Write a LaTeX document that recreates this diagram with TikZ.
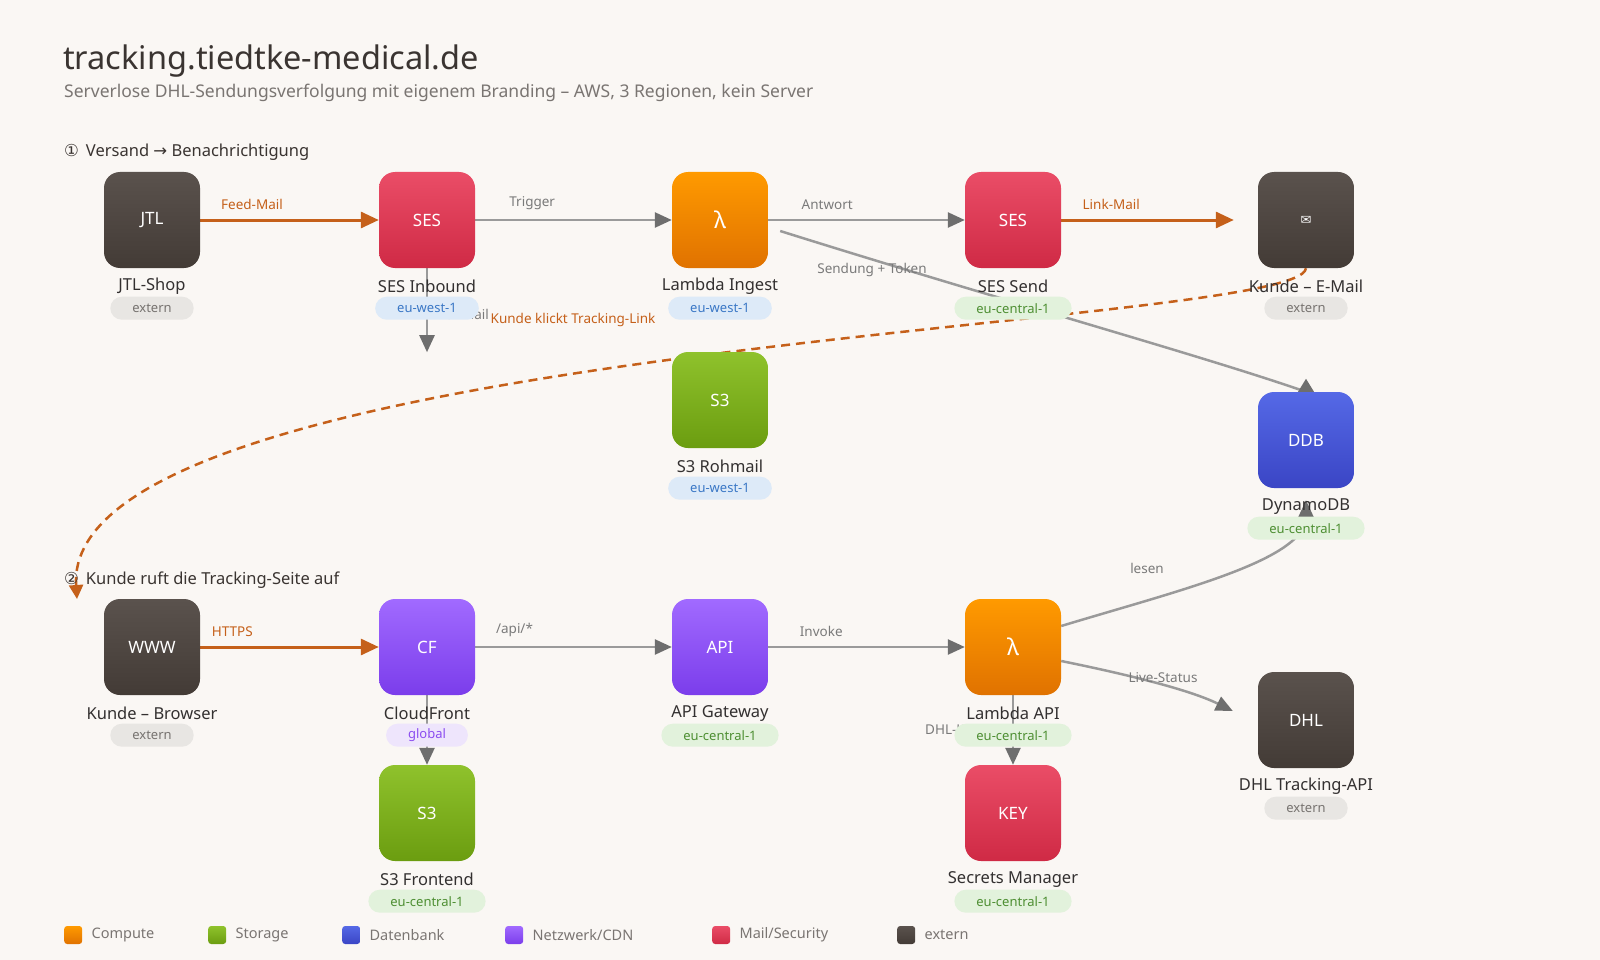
\documentclass[tikz,border=0pt]{standalone}
\usepackage{fontspec}
\setmainfont{Noto Sans}
\newfontfamily\symfont{DejaVu Sans}
\usetikzlibrary{arrows.meta, positioning}

\definecolor{bgcream}{HTML}{FAF7F4}
\definecolor{titleink}{HTML}{3A3431}
\definecolor{subink}{HTML}{7A7572}
\definecolor{nameink}{HTML}{333030}
\definecolor{labink}{HTML}{7A7A7A}
\definecolor{flowgray}{HTML}{9A9A9A}
\definecolor{tipgray}{HTML}{6E6E6E}
\definecolor{hotorange}{HTML}{C5601A}
\definecolor{exttop}{HTML}{5A524D}
\definecolor{extbot}{HTML}{433B36}
\definecolor{mailtop}{HTML}{EA4D67}
\definecolor{mailbot}{HTML}{CF2A45}
\definecolor{cputop}{HTML}{FF9A00}
\definecolor{cpubot}{HTML}{E07200}
\definecolor{s3top}{HTML}{8FC22C}
\definecolor{s3bot}{HTML}{6B9D10}
\definecolor{dbtop}{HTML}{5569E6}
\definecolor{dbbot}{HTML}{3A45C5}
\definecolor{nettop}{HTML}{A16AFF}
\definecolor{netbot}{HTML}{7B3DEB}
\definecolor{westbg}{HTML}{DDEAF8}
\definecolor{westfg}{HTML}{3B78C6}
\definecolor{centbg}{HTML}{E2F2DC}
\definecolor{centfg}{HTML}{4E8F33}
\definecolor{extbg}{HTML}{E8E6E3}
\definecolor{extfg}{HTML}{777370}
\definecolor{globbg}{HTML}{EEE5FC}
\definecolor{globfg}{HTML}{8B4DF0}

\pgfdeclarelayer{canvas}
\pgfdeclarelayer{wires}
\pgfsetlayers{canvas,wires,main}

\tikzset{
  svc/.style={rounded corners=16pt, minimum size=96pt, inner sep=0pt, text=white,
    font=\fontsize{17}{20}\selectfont},
  ext/.style={svc, top color=exttop, bottom color=extbot},
  mail/.style={svc, top color=mailtop, bottom color=mailbot},
  compute/.style={svc, top color=cputop, bottom color=cpubot, font=\fontsize{23}{26}\selectfont},
  storage/.style={svc, top color=s3top, bottom color=s3bot},
  db/.style={svc, top color=dbtop, bottom color=dbbot},
  net/.style={svc, top color=nettop, bottom color=netbot},
  svcname/.style={inner sep=0pt, text=nameink, font=\fontsize{16.5}{19}\selectfont},
  region/.style={rounded corners=11.5pt, minimum height=23pt, inner xsep=22pt, inner ysep=0pt,
    font=\fontsize{13}{15}\selectfont},
  west/.style={region, fill=westbg, text=westfg},
  central/.style={region, fill=centbg, text=centfg},
  outside/.style={region, fill=extbg, text=extfg},
  globe/.style={region, fill=globbg, text=globfg},
  flow/.style={line width=2.5pt, draw=flowgray,
    -{Triangle[length=17pt, width=15pt, color=tipgray]}},
  hot/.style={line width=3pt, draw=hotorange,
    -{Triangle[length=18pt, width=16pt, color=hotorange]}},
  elabel/.style={inner sep=0pt, text=labink, font=\fontsize{13.5}{15}\selectfont},
  section/.style={anchor=base west, inner sep=0pt, text=titleink, font=\fontsize{16.5}{19}\selectfont},
}

\begin{document}
\begin{tikzpicture}[x=1pt, y=-1pt]
\begin{pgfonlayer}{canvas}
  \fill[bgcream] (0,0) rectangle (1600,960);
\end{pgfonlayer}
\useasboundingbox (0,0) rectangle (1600,960);

% Kopf
\node[anchor=base west, inner sep=0pt, text=titleink, font=\fontsize{32.5}{38}\selectfont]
  (title) at (63,70) {tracking.tiedtke-medical.de};
\node[anchor=base west, inner sep=0pt, text=subink, font=\fontsize{17.5}{20}\selectfont]
  (subtitle) at (64,98) {Serverlose DHL-Sendungsverfolgung mit eigenem Branding – AWS, 3 Regionen, kein Server};
\node[section] (sec1) at (64,157) {{\symfont ①}\hspace{7pt}Versand {\symfont →} Benachrichtigung};
\node[section] (sec2) at (64,584) {{\symfont ②}\hspace{7pt}Kunde ruft die Tracking-Seite auf};

% Dienste, Zeile 1
\node[ext] (jtl) at (152,220) {JTL};
\node[mail] (sesin) at (427,220) {SES};
\node[compute] (lingest) at (720,220) {λ};
\node[mail] (sessend) at (1013,220) {SES};
\node[ext] (kmail) at (1306,220) {\symfont\fontsize{13}{15}\selectfont ✉};
\node[storage] (s3raw) at (720,400) {S3};
\node[db] (ddb) at (1306,440) {DDB};

% Dienste, Zeile 2
\node[ext] (www) at (152,647) {WWW};
\node[net] (cf) at (427,647) {CF};
\node[net] (apigw) at (720,647) {API};
\node[compute] (lapi) at (1013,647) {λ};
\node[ext] (dhl) at (1306,720) {DHL};
\node[storage] (s3web) at (427,813) {S3};
\node[mail] (key) at (1013,813) {KEY};

\coordinate (rawend) at ([yshift=-84pt]sesin.south);
\coordinate (ingout) at ([shift={(12,11)}]lingest.east);
\coordinate (browserin) at (77,599);

\begin{pgfonlayer}{wires}
  % Versand
  \draw[hot] (jtl) -- node[elabel, text=hotorange, above=9pt, pos=0.29] {Feed-Mail} (sesin);
  \draw[flow] (sesin) -- node[elabel, above=9pt, pos=0.29] {Trigger} (lingest);
  \draw[flow] (lingest) -- node[elabel, above=9pt, pos=0.3] {Antwort} (sessend);
  \draw[hot] (sessend) -- node[elabel, text=hotorange, above=9pt, pos=0.29] {Link-Mail}
    ([xshift=-24pt]kmail.west);
  \draw[flow] (sesin) -- (rawend);
  \node[elabel, anchor=base east] (rawlbl) at (489,319) {Rohmail};
  \draw[line width=2.5pt, draw=flowgray] (ingout) .. controls (1000,300) and (1200,355) .. (ddb.north);
  \fill[tipgray] ([xshift=-8pt]ddb.north) -- ([xshift=8pt]ddb.north) -- ([yshift=13pt]ddb.north) -- cycle;
  \node[elabel] (toklbl) at (872,270) {Sendung + Token};
  % Klick auf den Link
  \draw[hotorange, line width=2.5pt, dash pattern=on 9pt off 6pt,
    -{Triangle[length=14pt, width=14pt, color=hotorange]}]
    (kmail.south) .. controls (1300,330) and (60,340) .. (browserin);
  \node[elabel, text=hotorange] (klicklbl) at (573,320) {Kunde klickt Tracking-Link};
  % Abfrage
  \draw[hot] (www) -- node[elabel, text=hotorange, above=9pt, pos=0.18] {HTTPS} (cf);
  \draw[flow] (cf) -- node[elabel, above=9pt, pos=0.2] {/api/*} (apigw);
  \draw[flow] (apigw) -- node[elabel, above=9pt, pos=0.27] {Invoke} (lapi);
  \draw[flow] (cf) -- (s3web);
  \draw[flow] (lapi) -- (key);
  \node[elabel, anchor=west] (keylbl) at (925,731) {DHL-Key};
  \draw[flow] ([yshift=21pt]lapi.east) .. controls (1180,590) and (1306,560) .. ([yshift=-12pt]ddb.south);
  \node[elabel] (leslbl) at (1147,568) {lesen};
  \draw[flow] ([yshift=-14pt]lapi.east) .. controls (1130,675) and (1190,690) .. ([shift={(-25,-9)}]dhl.west);
  \node[elabel] (livelbl) at (1163,678) {Live-Status};
\end{pgfonlayer}

% Namen und Regionen
\node[svcname] (jtln) at ([yshift=-18pt]jtl.south) {JTL-Shop};
\node[outside] (jtlr) at ([yshift=-40pt]jtl.south) {extern};
\node[svcname] (sesinn) at ([yshift=-18pt]sesin.south) {SES Inbound};
\node[west] (sesinr) at ([yshift=-40pt]sesin.south) {eu-west-1};
\node[svcname] (lingestn) at ([yshift=-18pt]lingest.south) {Lambda Ingest};
\node[west] (lingestr) at ([yshift=-40pt]lingest.south) {eu-west-1};
\node[svcname] (sessendn) at ([yshift=-18pt]sessend.south) {SES Send};
\node[central] (sessendr) at ([yshift=-40pt]sessend.south) {eu-central-1};
\node[svcname] (kmailn) at ([yshift=-18pt]kmail.south) {Kunde – E-Mail};
\node[outside] (kmailr) at ([yshift=-40pt]kmail.south) {extern};
\node[svcname] (s3rawn) at ([yshift=-18pt]s3raw.south) {S3 Rohmail};
\node[west] (s3rawr) at ([yshift=-40pt]s3raw.south) {eu-west-1};
\node[svcname] (ddbn) at ([yshift=-18pt]ddb.south) {DynamoDB};
\node[central] (ddbr) at ([yshift=-40pt]ddb.south) {eu-central-1};
\node[svcname] (wwwn) at ([yshift=-18pt]www.south) {Kunde – Browser};
\node[outside] (wwwr) at ([yshift=-40pt]www.south) {extern};
\node[svcname] (cfn) at ([yshift=-18pt]cf.south) {CloudFront};
\node[globe] (cfr) at ([yshift=-40pt]cf.south) {global};
\node[svcname] (apigwn) at ([yshift=-18pt]apigw.south) {API Gateway};
\node[central] (apigwr) at ([yshift=-40pt]apigw.south) {eu-central-1};
\node[svcname] (lapin) at ([yshift=-18pt]lapi.south) {Lambda API};
\node[central] (lapir) at ([yshift=-40pt]lapi.south) {eu-central-1};
\node[svcname] (dhln) at ([yshift=-18pt]dhl.south) {DHL Tracking-API};
\node[outside] (dhlr) at ([yshift=-40pt]dhl.south) {extern};
\node[svcname] (s3webn) at ([yshift=-18pt]s3web.south) {S3 Frontend};
\node[central] (s3webr) at ([yshift=-40pt]s3web.south) {eu-central-1};
\node[svcname] (keyn) at ([yshift=-18pt]key.south) {Secrets Manager};
\node[central] (keyr) at ([yshift=-40pt]key.south) {eu-central-1};

% Legende
\foreach \lx/\lkind/\ltext in {64/cpu/Compute, 208/s3/Storage, 342/db/Datenbank,
    505/net/Netzwerk\slash CDN, 712/mail/Mail\slash Security, 897/ext/extern} {
  \node[rounded corners=3pt, minimum size=18pt, inner sep=0pt, anchor=west,
    top color=\lkind top, bottom color=\lkind bot] (key\lkind) at (\lx,935) {};
  \node[anchor=west, inner sep=0pt, text=subink, font=\fontsize{14.5}{18}\selectfont]
    at ([xshift=9pt]key\lkind.east) {\ltext};
}
\end{tikzpicture}
\end{document}
